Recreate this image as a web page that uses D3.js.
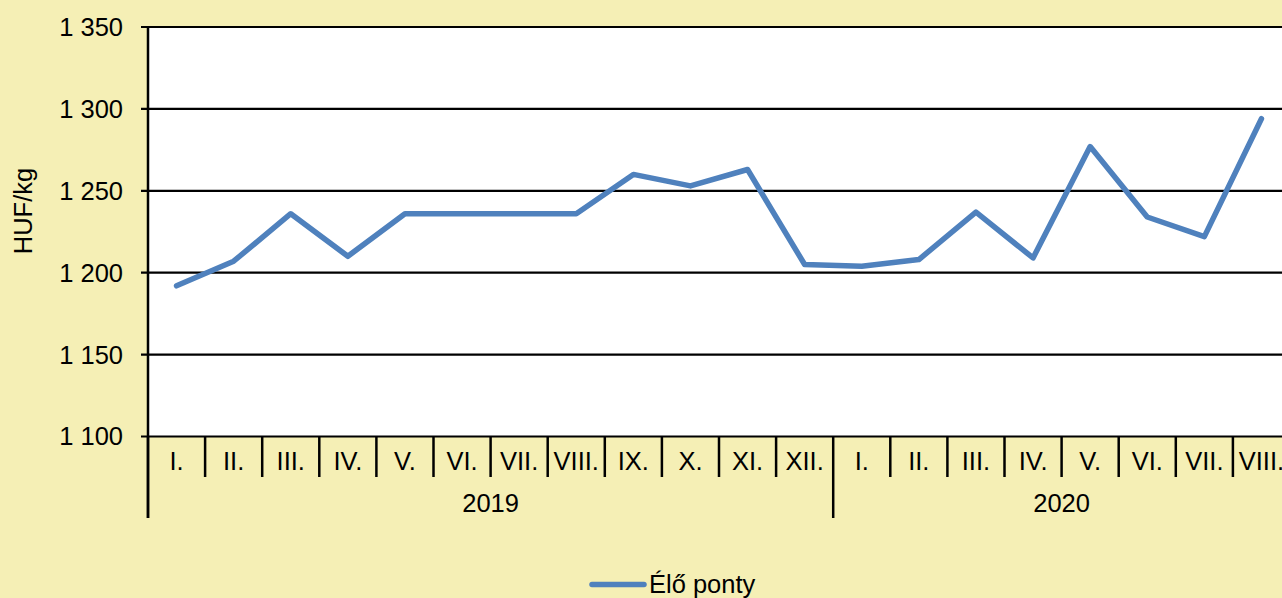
<!DOCTYPE html>
<html>
<head>
<meta charset="utf-8">
<script src="https://cdn.jsdelivr.net/npm/d3@7/dist/d3.min.js"></script>
<style>
  html, body { margin: 0; padding: 0; background: #F5EFB5; overflow: hidden; }
  svg { display: block; font-family: "Liberation Sans", Arial, sans-serif; }
</style>
</head>
<body>
<svg id="chart" width="1282" height="598"></svg>
<script>
// Monthly live carp price, HUF/kg
const years = ["2019", "2020"];
const months = [
  "I.", "II.", "III.", "IV.", "V.", "VI.", "VII.", "VIII.", "IX.", "X.", "XI.", "XII.",
  "I.", "II.", "III.", "IV.", "V.", "VI.", "VII.", "VIII."
];
const monthYear = [
  "2019", "2019", "2019", "2019", "2019", "2019", "2019", "2019", "2019", "2019", "2019", "2019",
  "2020", "2020", "2020", "2020", "2020", "2020", "2020", "2020"
];
const prices = [
  1192, 1207, 1236, 1210, 1236, 1236, 1236, 1236, 1260, 1253, 1263, 1205,
  1204, 1208, 1237, 1209, 1277, 1234, 1222, 1294
];
const yTicks = [1100, 1150, 1200, 1250, 1300, 1350];
const seriesName = "Élő ponty";
const axisTitle = "HUF/kg";

const svg = d3.select("#chart");
const fmt = v => d3.format(",")(v).replace(/,/g, " ");

const plotLeft = 148, plotTop = 27, plotBottom = 436.5, step = 57.1;
const plotRight = plotLeft + step * months.length;

const x = d3.scaleBand()
  .domain(d3.range(months.length))
  .range([plotLeft, plotRight])
  .paddingInner(0).paddingOuter(0);

const y = d3.scaleLinear().domain([1100, 1350]).range([plotBottom, plotTop]);

// plot area
svg.append("rect")
  .attr("x", plotLeft).attr("y", plotTop)
  .attr("width", plotRight - plotLeft).attr("height", plotBottom - plotTop)
  .attr("fill", "#FFFFFF");

// horizontal gridlines
svg.append("g")
  .selectAll("line")
  .data(yTicks)
  .join("line")
  .attr("x1", plotLeft - 7).attr("x2", plotRight)
  .attr("y1", d => y(d)).attr("y2", d => y(d))
  .attr("stroke", "#000").attr("stroke-width", 2.2);

// y tick labels
svg.append("g")
  .selectAll("text")
  .data(yTicks)
  .join("text")
  .attr("x", 123).attr("y", d => y(d))
  .attr("dy", "0.35em")
  .attr("text-anchor", "end")
  .attr("font-size", 25.5)
  .attr("fill", "#000")
  .text(fmt);

// y axis title
svg.append("text")
  .attr("transform", `translate(32,211) rotate(-90)`)
  .attr("text-anchor", "middle")
  .attr("font-size", 25.5)
  .attr("fill", "#000")
  .text(axisTitle);

// category tick marks between months; longer ones where a year starts
const boundaries = d3.range(months.length + 1);
const yearStarts = new Set();
monthYear.forEach((yr, i) => { if (i === 0 || monthYear[i - 1] !== yr) yearStarts.add(i); });

svg.append("g")
  .selectAll("line")
  .data(boundaries)
  .join("line")
  .attr("x1", i => plotLeft + i * x.bandwidth())
  .attr("x2", i => plotLeft + i * x.bandwidth())
  .attr("y1", plotBottom)
  .attr("y2", i => yearStarts.has(i) ? 518 : 477)
  .attr("stroke", "#000").attr("stroke-width", 2.5);

// y axis line
svg.append("line")
  .attr("x1", plotLeft).attr("x2", plotLeft)
  .attr("y1", plotTop - 1).attr("y2", 518)
  .attr("stroke", "#000").attr("stroke-width", 2.5);

// month labels
svg.append("g")
  .selectAll("text")
  .data(months)
  .join("text")
  .attr("x", (d, i) => x(i) + x.bandwidth() / 2)
  .attr("y", 470)
  .attr("text-anchor", "middle")
  .attr("font-size", 25.5)
  .attr("fill", "#000")
  .text(d => d);

// year labels centred under their months
svg.append("g")
  .selectAll("text")
  .data(years)
  .join("text")
  .attr("x", yr => {
    const idx = d3.range(months.length).filter(i => monthYear[i] === yr);
    return (x(idx[0]) + x(idx[idx.length - 1]) + x.bandwidth()) / 2;
  })
  .attr("y", 512)
  .attr("text-anchor", "middle")
  .attr("font-size", 25.5)
  .attr("fill", "#000")
  .text(d => d);

// price line
const line = d3.line()
  .x((d, i) => x(i) + x.bandwidth() / 2)
  .y(d => y(d));

svg.append("path")
  .datum(prices)
  .attr("d", line)
  .attr("fill", "none")
  .attr("stroke", "#4F81BD")
  .attr("stroke-width", 5.5)
  .attr("stroke-linejoin", "round")
  .attr("stroke-linecap", "round");

// legend
svg.append("line")
  .attr("x1", 592).attr("x2", 644)
  .attr("y1", 584.5).attr("y2", 584.5)
  .attr("stroke", "#4F81BD").attr("stroke-width", 5.5)
  .attr("stroke-linecap", "round");

svg.append("text")
  .attr("x", 649).attr("y", 593)
  .attr("font-size", 25.5)
  .attr("fill", "#000")
  .text(seriesName);
</script>
</body>
</html>
